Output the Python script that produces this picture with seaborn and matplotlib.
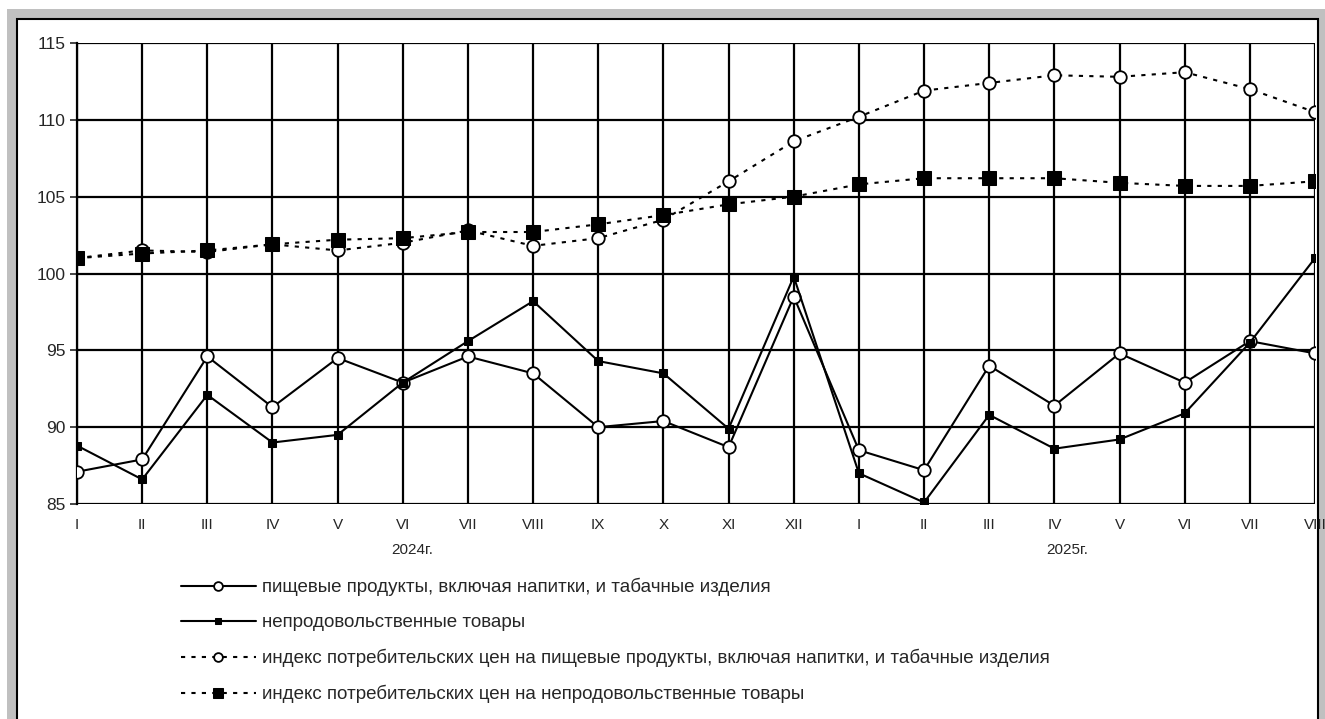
import numpy as np
import pandas as pd
import seaborn as sns
import matplotlib.pyplot as plt
from matplotlib.patches import Rectangle

# -----------------------------
# Data
# -----------------------------
months = ["I", "II", "III", "IV", "V", "VI", "VII", "VIII", "IX", "X", "XI", "XII",
          "I", "II", "III", "IV", "V", "VI", "VII", "VIII"]
years = ["2024г.", "2025г."]

food = [87.1, 87.9, 94.6, 91.3, 94.5, 92.9, 94.6, 93.5, 90.0, 90.4, 88.7, 98.5,
        88.5, 87.2, 94.0, 91.4, 94.8, 92.9, 95.6, 94.8]
nonfood = [88.8, 86.6, 92.1, 89.0, 89.5, 92.9, 95.6, 98.2, 94.3, 93.5, 89.9, 99.8,
           87.0, 85.1, 90.8, 88.6, 89.2, 90.9, 95.5, 101.0]
cpi_food = [101.0, 101.5, 101.4, 101.9, 101.5, 102.0, 102.8, 101.8, 102.3, 103.5, 106.0, 108.6,
            110.2, 111.9, 112.4, 112.9, 112.8, 113.1, 112.0, 110.5]
cpi_nonfood = [101.0, 101.3, 101.5, 101.9, 102.2, 102.3, 102.7, 102.7, 103.2, 103.8, 104.5, 105.0,
               105.8, 106.2, 106.2, 106.2, 105.9, 105.7, 105.7, 106.0]

labels = [
    "пищевые продукты, включая напитки, и табачные изделия",
    "непродовольственные товары",
    "индекс потребительских цен на пищевые продукты, включая напитки, и табачные изделия",
    "индекс потребительских цен на непродовольственные товары",
]

sns.set_style("white")
plt.rcParams["font.family"] = ["Liberation Sans", "DejaVu Sans"]

fig = plt.figure(figsize=(13.25, 7.19), dpi=100)

# grey frame + white inner panel
fig.patches.append(Rectangle((7 / 1325, 0), 1 - 7 / 1325, 1 - 9 / 719,
                             transform=fig.transFigure, facecolor="#c0c0c0",
                             edgecolor="none", zorder=-2))
fig.patches.append(Rectangle((17 / 1325, -0.01), (1318 - 17) / 1325, 1 - 19 / 719 + 0.01,
                             transform=fig.transFigure, facecolor="white",
                             edgecolor="black", linewidth=1.5, zorder=-1))

ax = fig.add_axes([77 / 1325, 1 - 504 / 719, (1315 - 77) / 1325, (504 - 43) / 719])
ax.set_facecolor("none")

x = np.arange(len(months))
dotted = (0, (2, 3))

sns.lineplot(x=x, y=food, ax=ax, color="black", lw=1.5, marker="o", markersize=9,
             markerfacecolor="white", markeredgecolor="black", markeredgewidth=1.3,
             label=labels[0], zorder=3)
sns.lineplot(x=x, y=nonfood, ax=ax, color="black", lw=1.5, marker="s", markersize=6,
             markerfacecolor="black", markeredgecolor="black", label=labels[1], zorder=3)
sns.lineplot(x=x, y=cpi_food, ax=ax, color="black", lw=1.5, linestyle=dotted, marker="o",
             markersize=9, markerfacecolor="white", markeredgecolor="black",
             markeredgewidth=1.3, label=labels[2], zorder=3)
sns.lineplot(x=x, y=cpi_nonfood, ax=ax, color="black", lw=1.5, linestyle=dotted, marker="s",
             markersize=10, markerfacecolor="black", markeredgecolor="black",
             label=labels[3], zorder=4)

ax.set_xlim(0, len(months) - 1)
ax.set_ylim(85, 115)
ax.set_yticks(range(85, 116, 5))
ax.set_xticks(x)
ax.set_xticklabels(months, fontsize=11)
ax.tick_params(axis="y", labelsize=12.5, length=5, width=1.2, direction="out", left=True, pad=3)
ax.tick_params(axis="x", length=0, pad=10)
ax.grid(True, color="black", linewidth=1.6)
ax.set_axisbelow(True)
for s in ax.spines.values():
    s.set_visible(False)
ax.spines["left"].set_visible(True)
ax.spines["left"].set_linewidth(1.6)
ax.spines["left"].set_color("black")
ax.set_xlabel("")
ax.set_ylabel("")

# year labels under the months
ax.text(5.15, -0.1, years[0], transform=ax.get_xaxis_transform(), ha="center",
        va="center", fontsize=11)
ax.text(15.2, -0.1, years[1], transform=ax.get_xaxis_transform(), ha="center",
        va="center", fontsize=11)

handles, _ = ax.get_legend_handles_labels()
ax.get_legend().remove()
fig.legend(handles, labels, loc="upper left", bbox_to_anchor=(164 / 1325, 1 - 561 / 719),
           frameon=False, fontsize=13.5, handlelength=4.0, handletextpad=0.3,
           labelspacing=0.95, numpoints=1, markerscale=0.7)

fig.savefig("out.png", dpi=100)
